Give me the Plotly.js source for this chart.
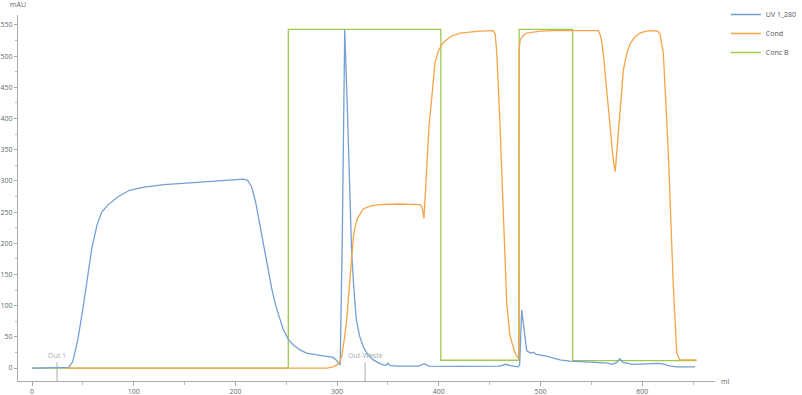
<!DOCTYPE html>
<html><head><meta charset="utf-8">
<script src="https://cdn.plot.ly/plotly-3.0.1.min.js"></script>
<style>html,body{margin:0;padding:0;background:#fff}#chart{width:802px;height:395px}</style>
</head><body><div id="chart"></div>
<script>
// UV 1_280 (mAU) vs volume (ml)
const uvX = [0,33,36,40,45,50,55,59,64,68.5,75,85,96,110,130,150,175,200,208,212,216,220,226,231,236,240,244,247,252,257,263.5,270,280,290,296,299,301.5,303,305,307.5,310,312,314.3,317,319,322,325.7,330,335.6,342,348,350,352,360,380,386,390,420,460,466,470,478,479.5,481.5,483,486.4,490,493,496,506,519,529,545,558,566,571,575,578,581,591,605,616,622,628,634,652];
const uvY = [0,0,1,10,45,95,150,194,230,250,262,275,285,290,294,296,299,302,303,301,290,265,210,165,125,98,77,62,46,37,29,24,21,19,17,13,7,5,200,542,420,300,184,115,77,52,34,22,13,7,4,8,4,3,3,7,3,2.5,3,6,4,2,5,93,70,28,24,25,22,19,13,11,10,8.5,8,6,9,15,9,6,7,7.5,6,3,2,2];
// Cond
const condX = [34,290,296,300,303,304.5,307,309.4,312,314.3,316,317.6,320,325.7,333,342,360,381.5,383.5,385.4,386.5,388,390.5,393,396.3,400,404.5,412,421,440,453.6,455.5,457,460,463.5,466.8,470,473,475,477.6,478.5,479,480,483,486.4,500,512.5,557,559.5,561.7,566.6,571.5,573.5,576.5,581.5,585,588,593,598,604,611,615,617.5,620.8,625.7,630.6,634,637,653.5];
const condY = [0,0,2,5,12,19,45,76,130,184,210,226,240,255,260,262,263,262,258,240,270,325,390,432,490,510,522,532,537,540,541,535,505,398,238,104,51,32,24,17,15,510,526,533,537,540,541,541,530,505,425,334,315,371,478,505,520,531,537,540,541,540,536,505,345,131,24,13,13];
// Conc B
const concX = [0,252,252,402,402,479,479,531.6,531.6,653.5];
const concY = [0,0,543,543,12.5,12.5,543,543,12,12];
// Fraction / event marks
const markX = [24.6,327.5];
const markText = ["Out 1","Out-Waste"];
const seriesNames = ["UV 1_280","Cond","Conc B"];

const colors = ["#739fd4","#f5a547","#9fca4e"];
const traces = [
  {x:concX,y:concY,name:seriesNames[2],legendrank:3,mode:'lines',line:{color:colors[2],width:1.3}},
  {x:uvX,y:uvY,name:seriesNames[0],legendrank:1,mode:'lines',line:{color:colors[0],width:1.3}},
  {x:condX,y:condY,name:seriesNames[1],legendrank:2,mode:'lines',line:{color:colors[1],width:1.3}}
];

const shapes = markX.map(v=>({type:'line',xref:'x',yref:'y',x0:v,x1:v,y0:-21,y1:9,line:{color:'#aaa',width:1}}));
const annotations = markX.map((v,i)=>({x:v,y:9,xref:'x',yref:'y',text:markText[i],showarrow:false,yanchor:'bottom',font:{size:7,color:'#aaa',family:'Open Sans, sans-serif'}}));
annotations.push({xref:'paper',yref:'paper',x:0,y:1,xanchor:'center',yanchor:'bottom',yshift:4,text:'mAU',showarrow:false,font:{size:7,color:'#666',family:'Open Sans, sans-serif'}});
annotations.push({xref:'paper',yref:'paper',x:1,y:0,xanchor:'left',yanchor:'middle',xshift:4,text:'ml',showarrow:false,font:{size:7,color:'#666',family:'Open Sans, sans-serif'}});

const layout = {
  width:802,height:395,
  margin:{l:18,r:87,t:15,b:14},
  paper_bgcolor:'#fff',plot_bgcolor:'#fff',
  font:{family:'Open Sans, sans-serif',size:7,color:'#666'},
  showlegend:true,
  legend:{xref:'container',yref:'container',x:0.905,y:1.0,xanchor:'left',yanchor:'top',font:{size:7,color:'#555'},traceorder:'normal',itemwidth:30,tracegroupgap:0,bgcolor:'rgba(0,0,0,0)'},
  xaxis:{range:[-13.8,671.6],showgrid:false,zeroline:false,showline:true,linecolor:'#aaa',linewidth:1,
    ticks:'outside',tickcolor:'#aaa',ticklen:4,dtick:100,tick0:0,tickfont:{size:7,color:'#666'},
    minor:{dtick:50,ticks:'outside',ticklen:3,tickcolor:'#bbb',showgrid:false},automargin:false},
  yaxis:{range:[-20.8,566],showgrid:false,zeroline:false,showline:true,linecolor:'#aaa',linewidth:1,
    ticks:'outside',tickcolor:'#aaa',ticklen:3,dtick:50,tick0:0,tickfont:{size:7,color:'#666'},
    minor:{dtick:25,ticks:'outside',ticklen:2,tickcolor:'#bbb',showgrid:false},automargin:false},
  shapes:shapes,annotations:annotations
};
Plotly.newPlot('chart',traces,layout,{displayModeBar:false,staticPlot:true});
</script></body></html>
